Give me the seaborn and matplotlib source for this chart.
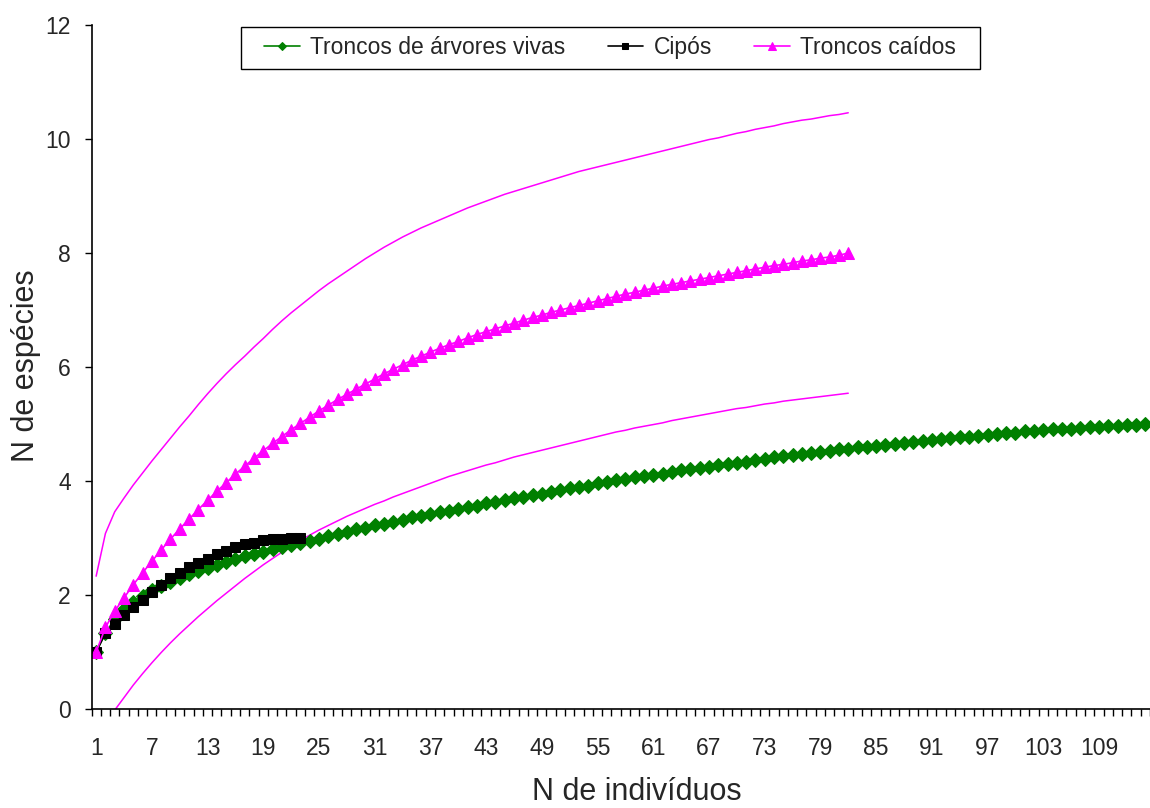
import matplotlib
matplotlib.use("Agg")
import matplotlib.pyplot as plt
import pandas as pd
import seaborn as sns
from matplotlib.patches import Rectangle

## valores (curvas de rarefacao)

vivas = [1.00, 1.33, 1.58, 1.75, 1.88, 1.99, 2.08, 2.16, 2.23, 2.30,
         2.36, 2.42, 2.48, 2.53, 2.58, 2.63, 2.68, 2.72, 2.76, 2.80,
         2.84, 2.88, 2.91, 2.95, 2.99, 3.03, 3.07, 3.11, 3.15, 3.18,
         3.22, 3.25, 3.28, 3.32, 3.36, 3.39, 3.42, 3.45, 3.48, 3.51,
         3.54, 3.57, 3.61, 3.64, 3.67, 3.70, 3.72, 3.75, 3.78, 3.81,
         3.84, 3.87, 3.90, 3.92, 3.96, 3.99, 4.02, 4.04, 4.07, 4.09,
         4.11, 4.13, 4.16, 4.19, 4.21, 4.23, 4.25, 4.28, 4.30, 4.32,
         4.34, 4.36, 4.39, 4.42, 4.43, 4.46, 4.47, 4.50, 4.51, 4.53,
         4.56, 4.57, 4.59, 4.60, 4.62, 4.63, 4.65, 4.67, 4.68, 4.70,
         4.72, 4.74, 4.76, 4.77, 4.78, 4.79, 4.81, 4.82, 4.84, 4.85,
         4.87, 4.88, 4.89, 4.91, 4.91, 4.92, 4.93, 4.94, 4.95, 4.96,
         4.97, 4.98, 4.99, 5.00]

cipos = [1.00, 1.33, 1.50, 1.65, 1.79, 1.92, 2.06, 2.18, 2.29, 2.39,
         2.49, 2.57, 2.64, 2.72, 2.78, 2.84, 2.89, 2.92, 2.96, 2.98,
         2.99, 3.00, 3.00]

caidos = [1.00, 1.43, 1.72, 1.95, 2.18, 2.39, 2.59, 2.79, 2.98, 3.16,
          3.33, 3.50, 3.66, 3.82, 3.97, 4.12, 4.26, 4.40, 4.53, 4.66,
          4.78, 4.90, 5.01, 5.12, 5.23, 5.33, 5.43, 5.52, 5.61, 5.70,
          5.79, 5.88, 5.96, 6.04, 6.12, 6.19, 6.26, 6.33, 6.39, 6.45,
          6.51, 6.57, 6.62, 6.67, 6.72, 6.77, 6.82, 6.87, 6.91, 6.96,
          7.00, 7.04, 7.08, 7.12, 7.16, 7.20, 7.24, 7.28, 7.31, 7.35,
          7.38, 7.42, 7.45, 7.48, 7.51, 7.54, 7.57, 7.60, 7.63, 7.66,
          7.69, 7.72, 7.75, 7.78, 7.80, 7.83, 7.86, 7.88, 7.91, 7.93,
          7.96, 8.00]

caidos_sup = [2.33, 3.08, 3.46, 3.70, 3.93, 4.14, 4.35, 4.55, 4.75, 4.95,
              5.14, 5.34, 5.53, 5.71, 5.88, 6.04, 6.19, 6.35, 6.50, 6.66,
              6.81, 6.95, 7.08, 7.21, 7.34, 7.46, 7.57, 7.68, 7.79, 7.90,
              8.00, 8.10, 8.19, 8.28, 8.36, 8.44, 8.51, 8.58, 8.65, 8.72,
              8.79, 8.85, 8.91, 8.97, 9.03, 9.08, 9.13, 9.18, 9.23, 9.28,
              9.33, 9.38, 9.43, 9.47, 9.51, 9.55, 9.59, 9.63, 9.67, 9.71,
              9.75, 9.79, 9.83, 9.87, 9.91, 9.95, 9.99, 10.02, 10.06, 10.10,
              10.13, 10.17, 10.20, 10.23, 10.27, 10.30, 10.33, 10.35, 10.38, 10.41,
              10.43, 10.46]

caidos_inf = [-0.33, -0.22, -0.02, 0.20, 0.42, 0.62, 0.81, 0.99, 1.16, 1.32,
              1.47, 1.62, 1.76, 1.90, 2.03, 2.16, 2.29, 2.41, 2.53, 2.64,
              2.75, 2.86, 2.96, 3.05, 3.14, 3.22, 3.30, 3.38, 3.45, 3.52,
              3.59, 3.65, 3.72, 3.78, 3.84, 3.90, 3.96, 4.02, 4.08, 4.13,
              4.18, 4.23, 4.28, 4.32, 4.37, 4.42, 4.46, 4.50, 4.54, 4.58,
              4.62, 4.66, 4.70, 4.74, 4.78, 4.82, 4.86, 4.89, 4.93, 4.96,
              4.99, 5.02, 5.06, 5.09, 5.12, 5.15, 5.18, 5.21, 5.24, 5.27,
              5.29, 5.32, 5.35, 5.37, 5.40, 5.42, 5.44, 5.46, 5.48, 5.50,
              5.52, 5.54]

rotulos_x = list(range(1, 110, 6))

df_vivas = pd.DataFrame({"n": range(1, len(vivas) + 1), "s": vivas})
df_cipos = pd.DataFrame({"n": range(1, len(cipos) + 1), "s": cipos})
df_caidos = pd.DataFrame({"n": range(1, len(caidos) + 1), "s": caidos,
                          "sup": caidos_sup, "inf": caidos_inf})

sns.set_style("white")
plt.rcParams["font.family"] = ["Liberation Sans", "DejaVu Sans"]

fig = plt.figure(figsize=(11.5, 8.08), dpi=100)
ax = fig.add_axes([91.5 / 1150, 99 / 808, (1150 - 91.5) / 1150, 684 / 808])

verde = "#008000"
rosa = "#FF00FF"

sns.lineplot(data=df_caidos, x="n", y="sup", color=rosa, lw=1.1, ax=ax)
sns.lineplot(data=df_caidos, x="n", y="inf", color=rosa, lw=1.1, ax=ax)
sns.lineplot(data=df_vivas, x="n", y="s", color=verde, lw=1.2, marker="D",
             markersize=7.3, markeredgecolor=verde, ax=ax,
             label="Troncos de árvores vivas")
sns.lineplot(data=df_cipos, x="n", y="s", color="black", lw=1.2, marker="s",
             markersize=7.6, markeredgecolor="black", ax=ax, label="Cipós")
sns.lineplot(data=df_caidos, x="n", y="s", color=rosa, lw=1.2, marker="^",
             markersize=9, markeredgecolor=rosa, ax=ax, label="Troncos caídos")

ax.set_xlim(0.5, 114.2)
ax.set_ylim(0, 12)
ax.set_yticks(range(0, 13, 2))
ax.set_xticks(rotulos_x)
ax.set_xticklabels([str(v) for v in rotulos_x])
ax.set_xticks([k + 0.5 for k in range(0, 115)], minor=True)
ax.tick_params(axis="x", which="major", length=0, pad=20, labelsize=16.5)
ax.tick_params(axis="x", which="minor", length=5, width=1, color="black",
               direction="out", bottom=True)
ax.tick_params(axis="y", length=5, width=1, color="black", direction="out",
               left=True, pad=10, labelsize=16.5)

for lado in ["top", "right"]:
    ax.spines[lado].set_visible(False)
ax.spines["left"].set_color("black")
ax.spines["bottom"].set_color("black")
ax.spines["left"].set_linewidth(1.2)
ax.spines["bottom"].set_linewidth(1.2)

ax.set_xlabel("N de indivíduos", fontsize=22)
ax.set_ylabel("N de espécies", fontsize=22)
ax.xaxis.set_label_coords((637 - 91.5) / 1058.5, (709 - 777) / 684)
ax.yaxis.set_label_coords((41 - 91.5) / 1058.5, (709 - 366) / 684)

leg = ax.legend(loc="upper center", bbox_to_anchor=((610 - 91.5) / 1058.5, (709 - 27) / 684),
                borderaxespad=0, ncol=3, fontsize=16.5, frameon=False,
                handlelength=1.55, handletextpad=0.45,
                columnspacing=1.85, borderpad=0.4, markerscale=0.6)

# moldura da legenda como no original (mais larga que o conteudo)
fig.patches.append(Rectangle((241 / 1150, 1 - 69 / 808), 739 / 1150, 42 / 808,
                             transform=fig.transFigure, fill=False,
                             edgecolor="black", linewidth=1.0, zorder=5))

fig.savefig("out.png", dpi=100)
